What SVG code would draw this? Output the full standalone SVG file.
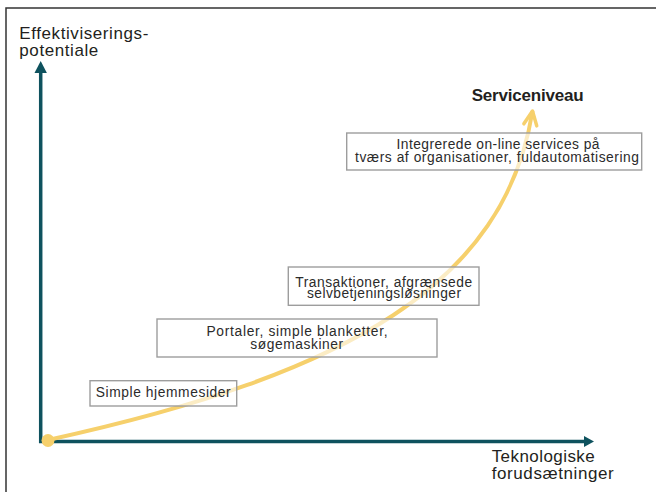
<svg xmlns="http://www.w3.org/2000/svg" width="656" height="492" viewBox="0 0 656 492">
<defs>
<style>
.lbl{font-family:"Liberation Sans",Arial,sans-serif;font-size:17px;fill:#231f20}
.bt{font-family:"Liberation Sans",Arial,sans-serif;font-size:13.8px;fill:#2b2b2b;text-anchor:middle}
.box{fill:#ffffff;fill-opacity:0.6;stroke:#9d9d9d;stroke-width:1.4}
.axis{fill:none;stroke:#0e525e;stroke-width:3.5;stroke-linejoin:miter}
.ah{fill:#0e525e}
.curve{fill:none;stroke:#f6d06c;stroke-width:4}
</style>
<marker id="arr" markerUnits="userSpaceOnUse" markerWidth="24" markerHeight="20" viewBox="-18 -10 24 20" refX="0" refY="0" orient="auto">
<path d="M-14,-6.5 L0,0 L-14,6.5" fill="none" stroke="#f6d06c" stroke-width="3.5" stroke-linejoin="round" stroke-linecap="round"/>
</marker>
</defs>
<rect width="656" height="492" fill="#ffffff"/>
<path d="M6,492 L6,8 L656,8" fill="none" stroke="#333333" stroke-width="1.5"/>

<g id="connectors">
<path class="axis" d="M40.7,72 L40.7,441.5 L586,441.5"/>
<polygon class="ah" points="40.7,61 34.5,73 46.9,73"/>
<polygon class="ah" points="594,441.5 584,436 584,447"/>
<path class="curve" d="M48,440 C350,374 505,283 532.5,111" marker-end="url(#arr)"/>
<circle cx="48" cy="440.5" r="6.5" fill="#f6d06c"/>
</g>

<g id="axis-y-label">
<text class="lbl" x="19.3" y="39" textLength="129" lengthAdjust="spacing">Effektiviserings-</text>
<text class="lbl" x="19.3" y="56" textLength="79" lengthAdjust="spacing">potentiale</text>
</g>
<g id="axis-x-label">
<text class="lbl" x="491.7" y="462" textLength="103" lengthAdjust="spacing">Teknologiske</text>
<text class="lbl" x="491.7" y="479" textLength="122" lengthAdjust="spacing">forudsætninger</text>
</g>
<g id="serviceniveau">
<text class="lbl" x="471.7" y="100.7" font-weight="bold" font-size="16.5" textLength="112" lengthAdjust="spacing">Serviceniveau</text>
</g>

<g id="node-integrerede">
<rect class="box" x="346.7" y="133" width="295" height="37"/>
<text class="bt" x="498" y="148.5" textLength="203" lengthAdjust="spacing">Integrerede on-line services på</text>
<text class="bt" x="497" y="161.5" textLength="284" lengthAdjust="spacing">tværs af organisationer, fuldautomatisering</text>
</g>
<g id="node-transaktioner">
<rect class="box" x="288.3" y="267" width="190.7" height="38.3"/>
<text class="bt" x="383.7" y="286.5" textLength="177" lengthAdjust="spacing">Transaktioner, afgrænsede</text>
<text class="bt" x="384" y="298" textLength="154" lengthAdjust="spacing">selvbetjeningsløsninger</text>
</g>
<g id="node-portaler">
<rect class="box" x="157" y="319" width="280" height="38"/>
<text class="bt" x="297" y="335.5" textLength="181" lengthAdjust="spacing">Portaler, simple blanketter,</text>
<text class="bt" x="296.7" y="348.5" textLength="93" lengthAdjust="spacing">søgemaskiner</text>
</g>
<g id="node-simple">
<rect class="box" x="90" y="380.7" width="146.7" height="25.3"/>
<text class="bt" x="163.2" y="396.7" textLength="135" lengthAdjust="spacing">Simple hjemmesider</text>
</g>
</svg>
